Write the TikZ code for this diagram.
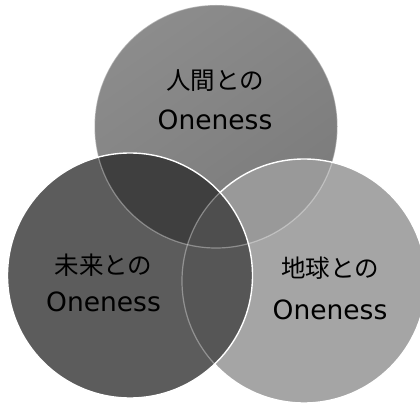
\documentclass[tikz,border=0pt]{standalone}
\usepackage{fontspec}
\newfontfamily\cjk{Noto Sans CJK JP}
\newfontfamily\lat{DejaVu Sans}
\definecolor{cT1}{HTML}{8C8C8C}
\definecolor{cT2}{HTML}{7B7B7B}
\definecolor{cL}{HTML}{5C5C5C}
\definecolor{cR}{HTML}{A5A5A5}
\definecolor{cTL}{HTML}{3F3F3F}
\definecolor{cTR}{HTML}{999999}
\definecolor{cLR}{HTML}{565656}
\definecolor{cTLR}{HTML}{4E4E4E}
\tikzset{
  bright/.style={draw=white, line width=1.4pt},
  faint/.style={draw=white, draw opacity=0.35, line width=1.2pt},
  jp/.style={inner sep=0pt, text=black, font=\cjk\fontsize{24.5}{28}\selectfont},
  en/.style={inner sep=0pt, text=black, font=\lat\fontsize{26.5}{30}\selectfont},
}
\begin{document}
\begin{tikzpicture}[x=1pt,y=-1pt]
\useasboundingbox (0,0) rectangle (420,403);
\coordinate (T) at (216,126.5);
\coordinate (L) at (130,275.5);
\coordinate (R) at (304,281);
\def\rT{121.5}
\def\rL{122.5}
\def\rR{122}
% top circle
\shade[top color=cT1, bottom color=cT2, shading angle=35] (T) circle (\rT);
% right circle
\fill[cR] (R) circle (\rR);
\begin{scope}
  \clip (T) circle (\rT);
  \fill[cTR] (R) circle (\rR);
\end{scope}
\path[faint] (T) circle (\rT);
\path[bright] (R) circle (\rR);
% left circle
\fill[cL] (L) circle (\rL);
\begin{scope}
  \clip (L) circle (\rL);
  \fill[cTL] (T) circle (\rT);
  \fill[cLR] (R) circle (\rR);
  \begin{scope}
    \clip (T) circle (\rT);
    \fill[cTLR] (R) circle (\rR);
  \end{scope}
  \path[faint] (T) circle (\rT);
  \path[faint] (R) circle (\rR);
\end{scope}
\path[bright] (L) circle (\rL);
% labels
\node[jp] (t1) at (215,81) {人間との};
\node[en] (t2) at (215,120) {Oneness};
\node[jp] (l1) at (103.5,265) {未来との};
\node[en] (l2) at (103.5,302) {Oneness};
\node[jp] (r1) at (330,268) {地球との};
\node[en] (r2) at (330,310) {Oneness};
\end{tikzpicture}
\end{document}
